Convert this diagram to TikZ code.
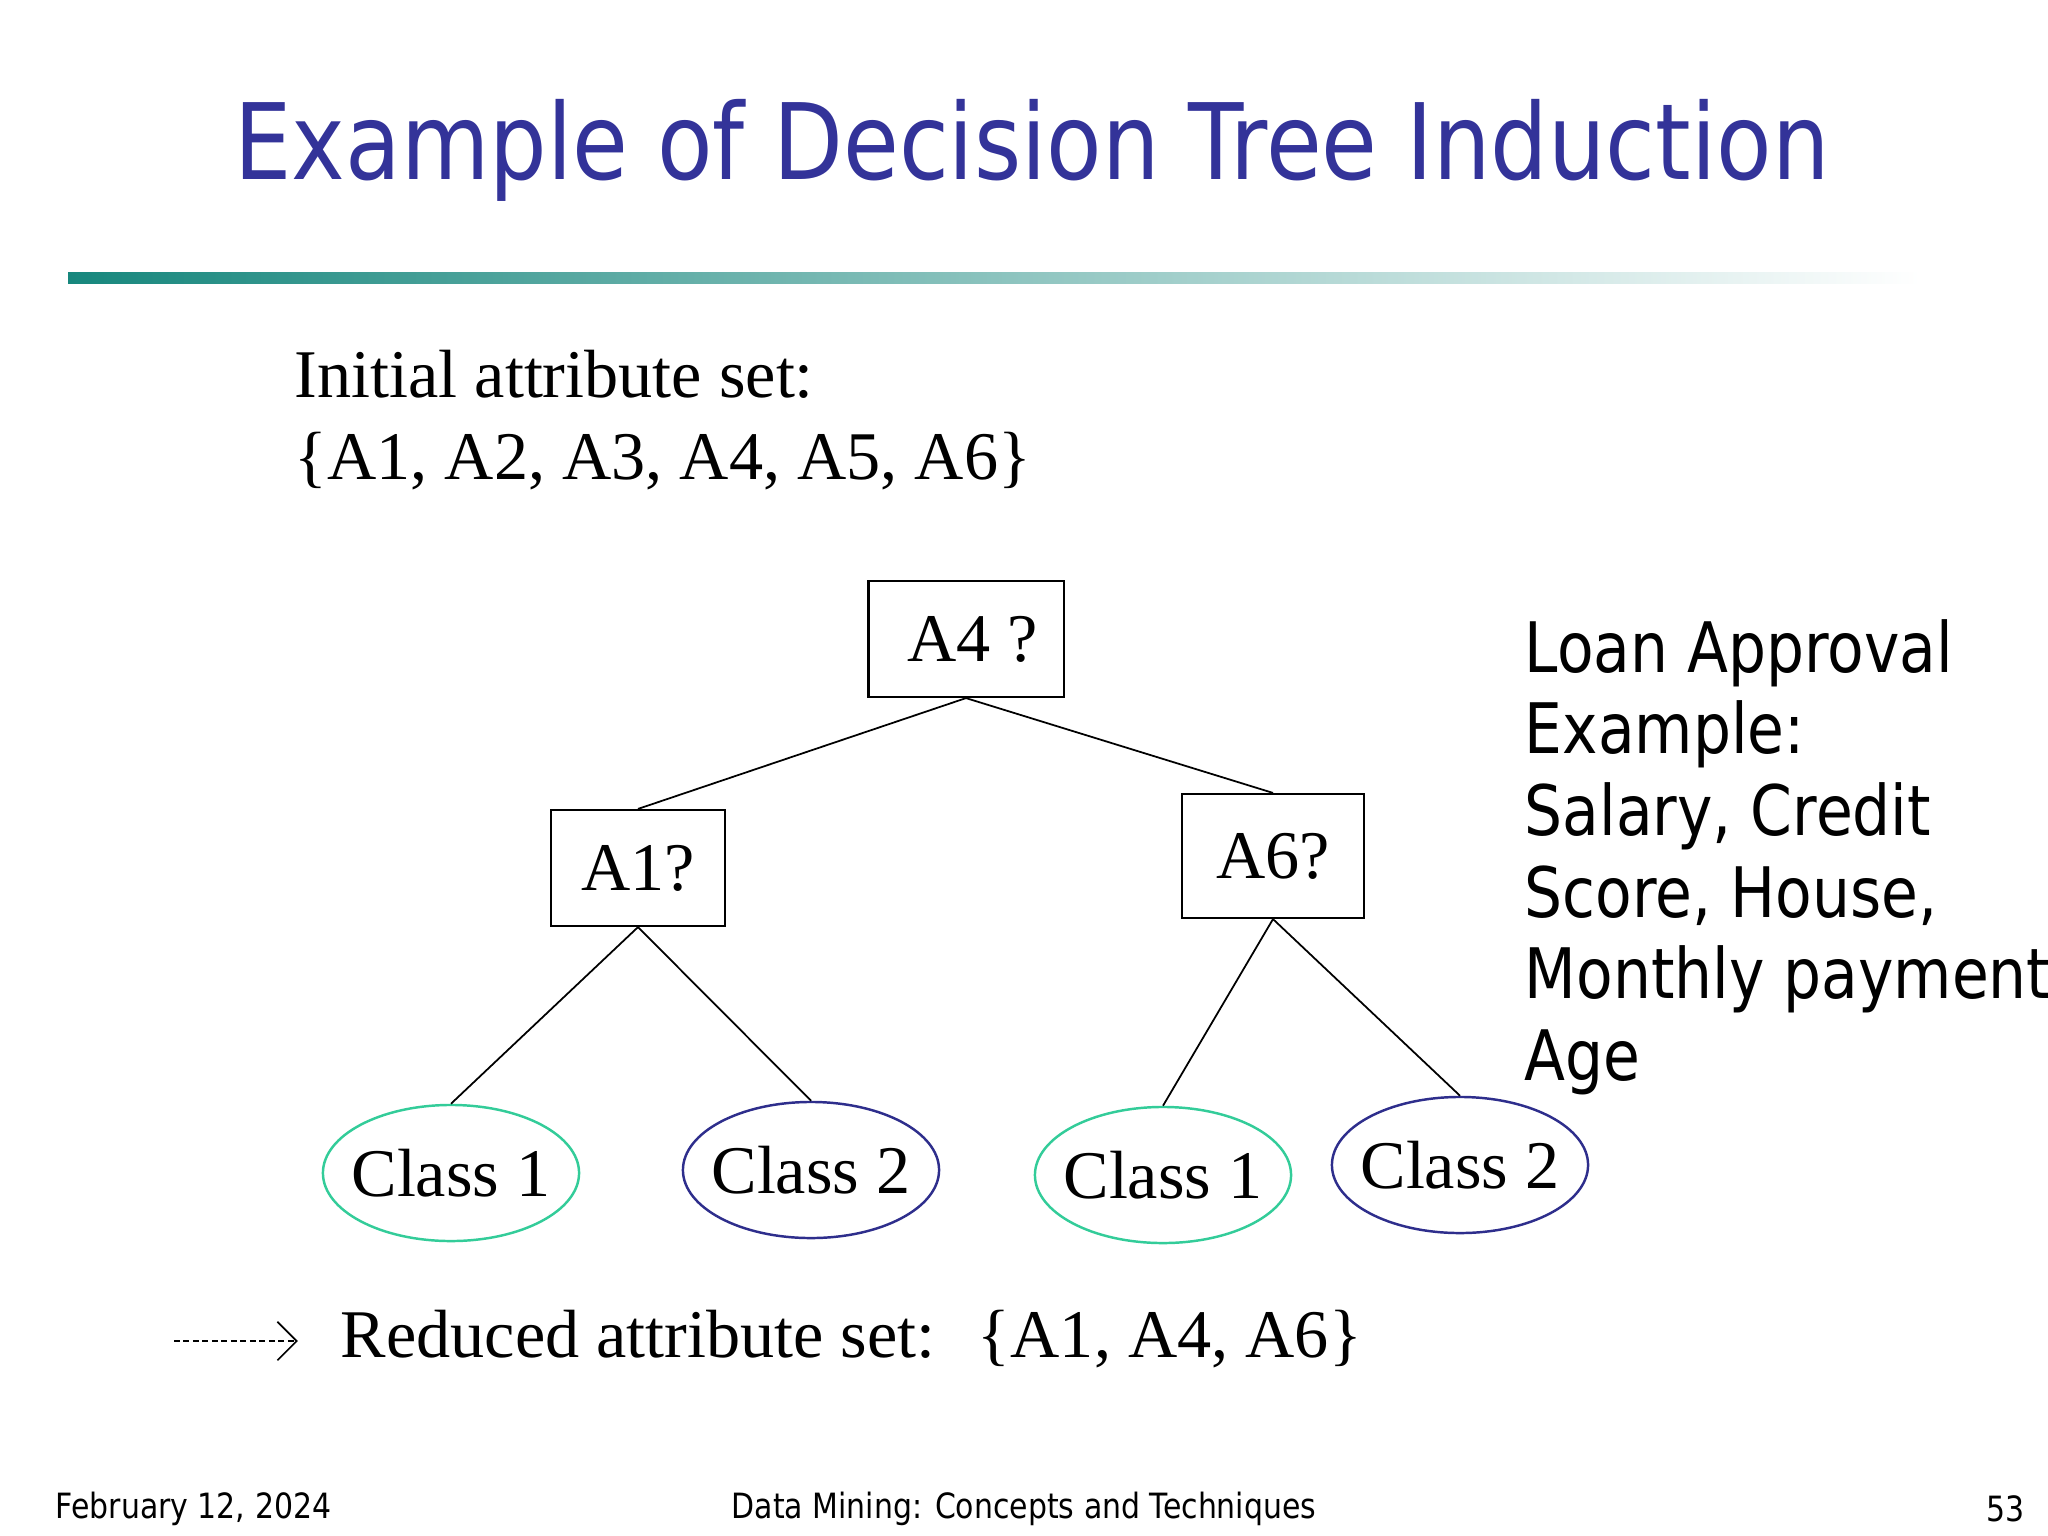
\documentclass[tikz,border=0pt]{standalone}
\usepackage{fontspec}
\setmainfont{Liberation Serif}
\newfontfamily\slidefont[FakeStretch=0.86]{DejaVu Sans}
\usetikzlibrary{arrows, arrows.meta, shapes}
\definecolor{titleblue}{HTML}{333399}
\definecolor{classgreen}{HTML}{33CC99}
\definecolor{classblue}{HTML}{2E2E8C}
\definecolor{barteal}{HTML}{17877D}
\tikzset{
		test node/.style={draw, rectangle, line width=0.6pt, inner sep=0pt, font=\fontsize{19.4}{23}\selectfont},
		class leaf/.style={draw, ellipse, line width=0.7pt, minimum width=2.56cm, minimum height=1.36cm, inner xsep=-0.1cm, inner ysep=0pt, font=\fontsize{19.4}{23}\selectfont},
		serif text/.style={font=\fontsize{19.4}{23.3}\selectfont, inner sep=0pt},
		slide text/.style={font=\slidefont\fontsize{19.8}{23.2}\selectfont, inner sep=0pt},
		footer text/.style={font=\slidefont\fontsize{9.9}{12}\selectfont, inner sep=0pt}
	}

\begin{document}
\begin{tikzpicture}[x=0.01cm, y=-0.01cm]
				\useasboundingbox (0,0) rectangle (2048,1536);

				% slide heading
				\node[font=\slidefont\fontsize{30}{36}\selectfont, text=titleblue] (title) at (1032,150) {Example of Decision Tree Induction};
				\shade[left color=barteal, right color=white] (68,272) rectangle (1920,283);

				\node[serif text, anchor=west, align=left] (initial) at (294,420) {Initial attribute set:\\\{A1, A2, A3, A4, A5, A6\}};

				% the tree
				\node[test node, minimum width=1.95cm, minimum height=1.16cm] (a4) at (966,639) {\hspace{0.2em}A4 ?};
				\node[test node, minimum width=1.74cm, minimum height=1.16cm] (a1) at (638,868) {A1?};
				\node[test node, minimum width=1.82cm, minimum height=1.24cm] (a6) at (1273,856) {A6?};

				\node[class leaf, draw=classgreen] (c1l) at (451,1173) {Class 1};
				\node[class leaf, draw=classblue]  (c2l) at (811,1170) {Class 2};
				\node[class leaf, draw=classgreen] (c1r) at (1163,1175) {Class 1};
				\node[class leaf, draw=classblue]  (c2r) at (1460,1165) {Class 2};

				\draw[line width=0.5pt] (a4.south) -- (a1.north);
				\draw[line width=0.5pt] (a4.south) -- (a6.north);
				\draw[line width=0.5pt] (a1.south) -- (c1l.north);
				\draw[line width=0.5pt] (a1.south) -- (c2l.north);
				\draw[line width=0.5pt] (a6.south) -- (c1r.north);
				\draw[line width=0.5pt] (a6.south) -- (c2r.north);

				\node[slide text, anchor=west, align=left] (loan) at (1524,857) {Loan Approval\\Example:\\Salary, Credit\\Score, House,\\Monthly payment,\\Age};

				% reduced set
				\coordinate (dash start) at (174,1341);
				\node[serif text, anchor=west] (reduced) at (340,1339) {Reduced attribute set:\hspace{0.62em}\{A1, A4, A6\}};
				\draw[line width=0.5pt, dash pattern=on 1.6pt off 1.1pt, -{Straight Barb[length=5.5pt, width=11pt, line width=0.5pt]}, shorten >=0.42cm] (dash start) -- (dash start -| reduced.west);

				% footer
				\node[footer text, anchor=west] (date) at (55,1509) {February 12, 2024};
				\node[footer text] (course) at (1024,1509) {Data Mining: Concepts and Techniques};
				\node[footer text, anchor=east] (page) at (2025,1509) {53};
			\end{tikzpicture}
\end{document}
